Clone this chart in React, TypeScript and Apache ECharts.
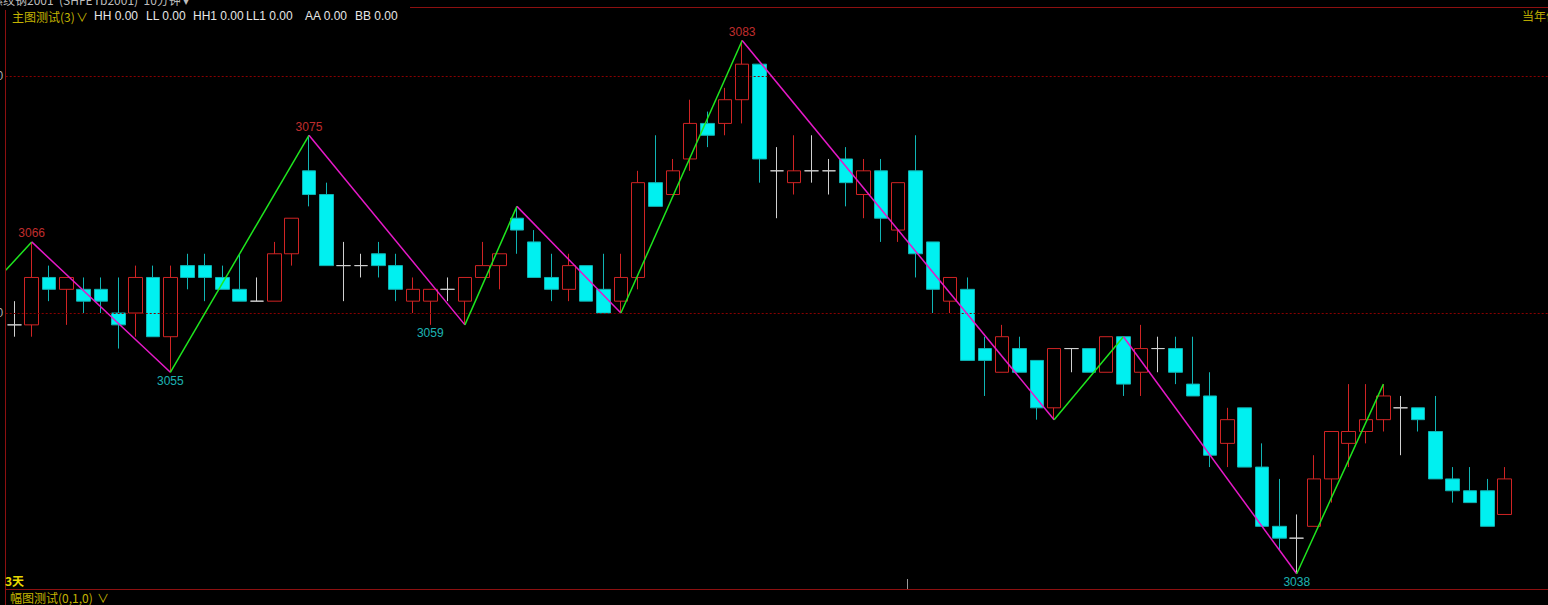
import React, { useEffect, useRef } from "react";
import * as echarts from "echarts";

// ---- data ----
const categories: string[] = Array.from({ length: 89 }, (_, i) => `K${i + 1}`);

const opens = [
  3059, 3059, 3063, 3062, 3062, 3062, 3060, 3060, 3063, 3058,
  3064, 3064, 3063, 3062, 3061, 3061, 3065, 3072, 3070, 3064,
  3064, 3065, 3064, 3061, 3061, 3062, 3061, 3063, 3064, 3068,
  3066, 3063, 3062, 3064, 3062, 3061, 3063, 3071, 3070, 3073,
  3076, 3076, 3078, 3081, 3072, 3071, 3072, 3072, 3073, 3070,
  3072, 3067, 3072, 3066, 3061, 3062, 3057, 3055, 3057, 3056,
  3052, 3057, 3057, 3055, 3058, 3055, 3057, 3057, 3054, 3053,
  3049, 3052, 3047, 3042, 3041, 3042, 3046, 3049, 3050, 3051,
  3052, 3052, 3050, 3046, 3045, 3045, 3043,
];
const closes = [
  3059, 3063, 3062, 3063, 3061, 3061, 3059, 3063, 3058, 3063,
  3063, 3063, 3062, 3061, 3061, 3065, 3068, 3070, 3064, 3064,
  3064, 3064, 3062, 3062, 3062, 3062, 3063, 3064, 3065, 3067,
  3063, 3062, 3064, 3061, 3060, 3063, 3071, 3069, 3072, 3076,
  3075, 3078, 3081, 3073, 3072, 3072, 3072, 3072, 3071, 3072,
  3068, 3071, 3065, 3062, 3063, 3056, 3056, 3058, 3055, 3052,
  3057, 3057, 3055, 3058, 3054, 3057, 3057, 3055, 3053, 3048,
  3051, 3047, 3042, 3041, 3041, 3046, 3050, 3050, 3051, 3053,
  3052, 3051, 3046, 3045, 3044, 3042, 3046,
];
const lows = [
  3058, 3058, 3061, 3059, 3060, 3060, 3057, 3058, 3058, 3055,
  3062, 3061, 3062, 3061, 3061, 3061, 3064, 3069, 3064, 3061,
  3063, 3063, 3061, 3060, 3059, 3061, 3059, 3063, 3062, 3065,
  3063, 3061, 3061, 3061, 3060, 3060, 3062, 3069, 3070, 3072,
  3074, 3075, 3076, 3071, 3068, 3070, 3071, 3070, 3069, 3068,
  3066, 3066, 3063, 3060, 3060, 3056, 3053, 3055, 3055, 3051,
  3051, 3055, 3055, 3055, 3053, 3053, 3055, 3054, 3053, 3047,
  3047, 3047, 3042, 3040, 3038, 3042, 3044, 3047, 3049, 3050,
  3048, 3050, 3046, 3044, 3044, 3042, 3043,
];
const highs = [
  3061, 3066, 3064, 3063, 3063, 3063, 3063, 3064, 3064, 3064,
  3065, 3065, 3064, 3065, 3063, 3066, 3068, 3075, 3071, 3066,
  3065, 3066, 3065, 3063, 3062, 3063, 3063, 3066, 3065, 3069,
  3067, 3065, 3065, 3064, 3065, 3065, 3072, 3075, 3073, 3078,
  3077, 3079, 3083, 3081, 3074, 3075, 3075, 3073, 3074, 3073,
  3073, 3071, 3075, 3066, 3063, 3063, 3058, 3059, 3058, 3056,
  3057, 3057, 3057, 3058, 3058, 3059, 3058, 3058, 3058, 3055,
  3052, 3052, 3049, 3046, 3043, 3048, 3050, 3054, 3054, 3054,
  3053, 3052, 3053, 3047, 3047, 3046, 3047,
];

// zigzag vertices (x in bar index, -0.5 = left edge of plot)
const zigzagIdx = [-0.5, 1, 9, 17, 26, 29, 35, 42, 60, 64, 74, 79];
const zigzagPx = [3063.6, 3066, 3055, 3075, 3059, 3069, 3060, 3083, 3051, 3058, 3038, 3054];

// turning-point labels
const labelIdx = [1, 9, 17, 24, 42, 74];
const labelPx = [3066, 3055, 3075, 3059, 3083, 3038];
const labelKind = ["high", "low", "high", "low", "high", "low"];

// dotted price levels and axis labels
const gridLevels = [3060, 3080];

// indicator header values
const indicatorNames = ["HH", "LL", "HH1", "LL1", "AA", "BB"];
const indicatorValues = [0, 0, 0, 0, 0, 0];

const FONT = "'Liberation Sans', 'Noto Sans CJK SC', sans-serif";
const CJK = "'Noto Sans CJK SC', 'Liberation Sans', sans-serif";

export default function App() {
  const ref = useRef<HTMLDivElement>(null);

  useEffect(() => {
    if (!ref.current) return;
    const chart = echarts.init(ref.current, undefined, { renderer: "svg" });

    const candleData = opens.map((o, i) => [o, closes[i], lows[i], highs[i]]);

    const zigzagSeries: any[] = [];
    for (let i = 0; i < zigzagIdx.length - 1; i++) {
      const up = zigzagPx[i + 1] > zigzagPx[i];
      zigzagSeries.push({
        type: "line",
        xAxisIndex: 1,
        yAxisIndex: 0,
        data: [
          [zigzagIdx[i], zigzagPx[i]],
          [zigzagIdx[i + 1], zigzagPx[i + 1]],
        ],
        symbol: "none",
        silent: true,
        z: 5,
        lineStyle: { color: up ? "#1ee61e" : "#e619c8", width: 1.5 },
      });
    }

    const labelSeries = {
      type: "scatter",
      xAxisIndex: 1,
      yAxisIndex: 0,
      symbolSize: 1,
      silent: true,
      z: 6,
      itemStyle: { color: "rgba(0,0,0,0)" },
      data: labelIdx.map((x, i) => ({
        value: [x, labelPx[i]],
        label: {
          show: true,
          formatter: String(labelPx[i]),
          position: labelKind[i] === "high" ? "top" : "bottom",
          distance: 2,
          color: labelKind[i] === "high" ? "#f03a3a" : "#24e0e0",
          fontSize: 12,
          fontFamily: FONT,
        },
      })),
    };

    const indicatorX = [94, 146, 193, 246, 305, 355];
    const indicatorTexts = indicatorNames.map((n, i) => ({
      type: "text",
      x: indicatorX[i],
      y: 10,
      z: 10,
      style: { text: `${n} ${indicatorValues[i].toFixed(2)}`, fill: "#e6e6e6", font: `12px ${FONT}` },
    }));

    const frame = "#8c1010";
    const option: any = {
      animation: false,
      backgroundColor: "#000000",
      grid: { left: 5.7, right: 0, top: 8, bottom: 16, containLabel: false, outerBoundsMode: "none" },
      xAxis: [
        { type: "category", data: categories, boundaryGap: true, show: false },
        { type: "value", min: -0.5, max: 88.5, show: false },
      ],
      yAxis: {
        type: "value",
        min: 3036.71,
        max: 3085.74,
        splitLine: { show: false },
        axisLine: { show: false },
        axisTick: { show: false },
        axisLabel: {
          customValues: gridLevels,
          formatter: (v: number) => String(Math.round(v)),
          margin: 2.5,
          color: "#b0b0b0",
          fontSize: 12,
          fontFamily: FONT,
        },
      },
      series: [
        {
          type: "candlestick",
          xAxisIndex: 0,
          yAxisIndex: 0,
          data: candleData,
          barWidth: 14,
          z: 3,
          itemStyle: {
            color: "#000000",
            color0: "#00f0f0",
            borderColor: "#d02424",
            borderColor0: "#10b4b4",
            borderColorDoji: "#d0d0d0",
            borderWidth: 1,
          },
          markLine: {
            silent: true,
            symbol: ["none", "none"],
            label: { show: false },
            lineStyle: { color: "#8a0000", type: [2, 2], width: 1 },
            data: gridLevels.map((v) => ({ yAxis: v })),
          },
        },
        ...zigzagSeries,
        labelSeries,
      ],
      graphic: [
        // frame lines
        { type: "line", shape: { x1: 5.5, y1: 10, x2: 5.5, y2: 605 }, style: { stroke: frame, lineWidth: 1 }, z: 10 },
        { type: "line", shape: { x1: 410, y1: 7.5, x2: 1548, y2: 7.5 }, style: { stroke: frame, lineWidth: 1 }, z: 10 },
        { type: "line", shape: { x1: 5, y1: 589.5, x2: 1548, y2: 589.5 }, style: { stroke: frame, lineWidth: 1 }, z: 10 },
        { type: "line", shape: { x1: 907.5, y1: 579, x2: 907.5, y2: 589 }, style: { stroke: "#9a9a9a", lineWidth: 1 }, z: 10 },
        // header (clipped title)
        {
          type: "text", x: -9, y: -7, z: 10,
          style: { text: "螺纹钢2001  (SHFE rb2001)  10分钟 ▾", fill: "#bdbdbd", font: `12px ${CJK}` },
        },
        {
          type: "text", x: 12, y: 10, z: 10,
          style: { text: "主图测试(3)", fill: "#c4b400", font: `12px ${CJK}` },
        },
        {
          type: "text", x: 76, y: 10, z: 10,
          style: { text: "∨", fill: "#c4b400", font: `12px ${CJK}` },
        },
        ...indicatorTexts,
        {
          type: "text", x: 1522, y: 9, z: 10,
          style: { text: "当年份", fill: "#b8a800", font: `12px ${CJK}` },
        },
        {
          type: "text", x: 5, y: 574, z: 10,
          style: { text: "3天", fill: "#e8d800", font: `bold 12px ${CJK}` },
        },
        {
          type: "text", x: 10, y: 591, z: 10,
          style: { text: "幅图测试(0,1,0)", fill: "#c4b400", font: `12px ${CJK}` },
        },
        {
          type: "text", x: 97, y: 591, z: 10,
          style: { text: "∨", fill: "#c4b400", font: `12px ${CJK}` },
        },
      ],
    };

    chart.setOption(option);
    return () => chart.dispose();
  }, []);

  return (
    <div
      ref={ref}
      style={{ position: "fixed", left: 0, top: 0, width: 1548, height: 605, background: "#000" }}
    />
  );
}
